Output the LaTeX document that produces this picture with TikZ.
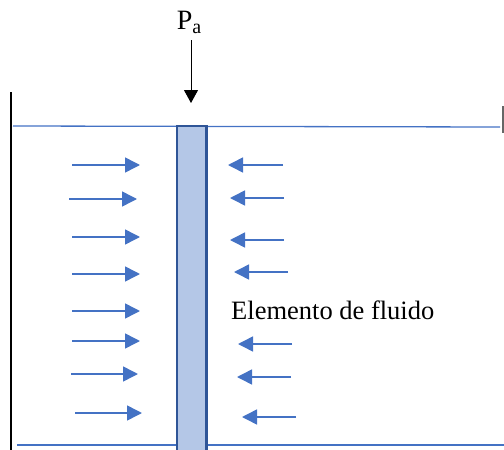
\documentclass[tikz,border=0pt]{standalone}
\usepackage{fontspec}
\setmainfont{Liberation Serif}
\usetikzlibrary{arrows.meta,positioning,calc}
\definecolor{fluid}{HTML}{4472C4}
\definecolor{wallblue}{HTML}{2F5597}
\definecolor{fill}{HTML}{B4C7E7}

\begin{document}
\begin{tikzpicture}[x=1pt, y=-1pt,
  wall/.style={black, line width=1.3pt},
  surf/.style={fluid, line width=1.3pt},
  elem/.style={draw=wallblue, fill=fill, line width=2.4pt},
  push/.style={-{Triangle[length=15pt, width=15pt]}, fluid, line width=1.5pt},
  load/.style={-{Triangle[length=13pt, width=14pt]}, black, line width=1pt},
  lbl/.style={inner sep=0pt, font=\fontsize{26.5}{28}\selectfont}
]
  \useasboundingbox (0,0) rectangle (504,450);

  % recipiente y superficies
  \draw[wall] (11,92) -- (11,450);
  \draw[wall, black!60] (503,106) -- (503,133);
  \draw[surf] (13,126) -- (500,127);
  \draw[surf] (17,445) -- (504,445);

  % elemento de fluido
  \draw[elem] (177.2,126) rectangle (206.5,452);

  % presion atmosferica
  \node[lbl, font=\fontsize{28}{30}\selectfont] (pa) at (189,22) {P{\fontsize{20}{20}\selectfont\raisebox{-4pt}{a}}};
  \coordinate (top) at (191,103);
  \draw[load] (191,40) -- (top);

  % fuerzas del fluido
  \foreach \xa/\xb/\y in {72/140/165, 69/137/199, 72/140/237, 72/140/274,
                          72/140/311, 72/140/341, 71/138/374, 75/142/413}
    \draw[push] (\xa,\y) -- (\xb,\y);
  \foreach \xa/\xb/\y in {283/228/165, 284/230/198, 284/230/240, 288/234/272,
                          292/238/344, 291/237/377, 296/242/417}
    \draw[push] (\xa,\y) -- (\xb,\y);

  \node[lbl, anchor=west] (elemento) at (231,310) {Elemento de fluido};
\end{tikzpicture}
\end{document}
